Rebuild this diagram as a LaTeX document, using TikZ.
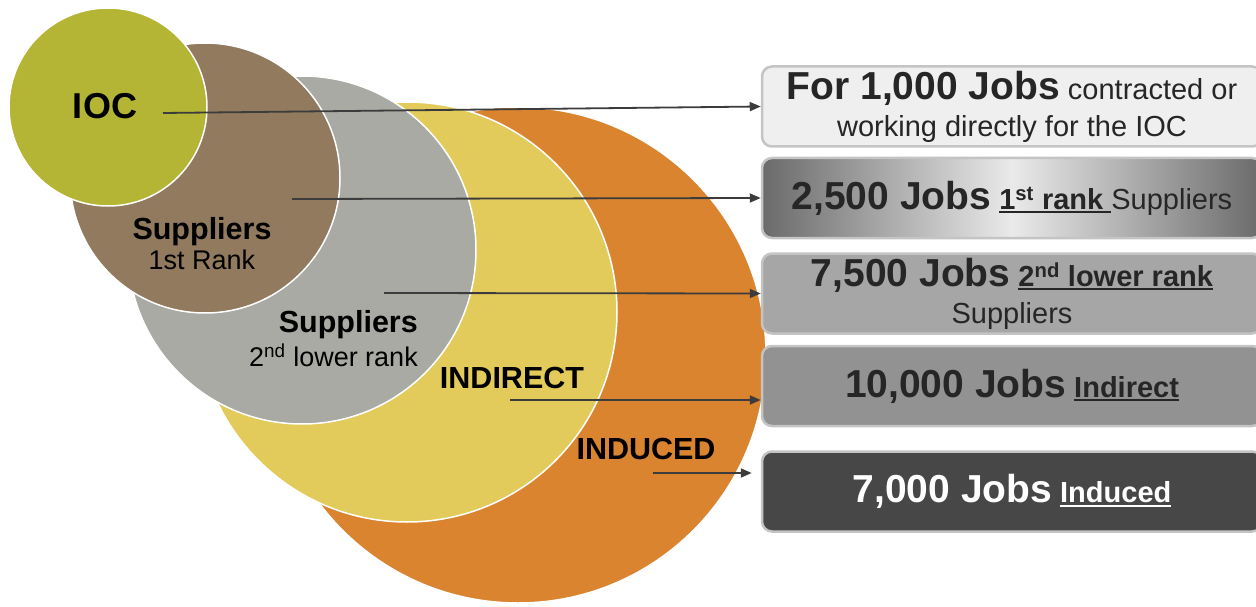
\documentclass[tikz,border=0pt]{standalone}
\usepackage{fontspec}
\setmainfont{Liberation Sans}
\usepackage{tikz}
\usetikzlibrary{positioning, arrows.meta}

\definecolor{iocgreen}{HTML}{B4B535}
\definecolor{suppbrown}{HTML}{917A5E}
\definecolor{suppgray}{HTML}{A9AAA4}
\definecolor{indirectyellow}{HTML}{E2CB5A}
\definecolor{inducedorange}{HTML}{DA8430}
\definecolor{linkgray}{HTML}{3C3C3C}
\definecolor{boxline}{HTML}{C4C4C4}
\definecolor{boxtext}{HTML}{262626}
\definecolor{boxA}{HTML}{EFEFEF}
\definecolor{boxBdark}{HTML}{6A6A6A}
\definecolor{boxBlight}{HTML}{EAEAEA}
\definecolor{boxC}{HTML}{A6A6A6}
\definecolor{boxD}{HTML}{929292}
\definecolor{boxE}{HTML}{474747}

\newsavebox\ulbox
\newcommand{\jobul}[1]{\sbox\ulbox{#1}\rlap{\rule[-4pt]{\wd\ulbox}{2pt}}\usebox\ulbox}
\newcommand{\bignum}{\bfseries\fontsize{39}{37}\selectfont}

\begin{document}
\begin{tikzpicture}
  [
    x = 1pt, y = -1pt,
    ring/.style = {draw = white, line width = 1.5pt, circle, inner sep = 0pt},
    lbl/.style = {inner sep = 0pt, text = black, align = center,
                  font = \bfseries\fontsize{30.5}{30}\selectfont},
    jobbox/.style = {draw = boxline, line width = 2.5pt, rounded corners = 10pt,
                     minimum width = 500pt, minimum height = 80pt, inner sep = 0pt,
                     align = center, text = boxtext, font = \fontsize{29}{37}\selectfont},
    link/.style = {draw = linkgray, line width = 1.8pt,
                   -{Triangle[length = 11pt, width = 9pt]}},
    node distance = 10pt
  ]
  \useasboundingbox (0,0) rectangle (1256,607);

  % circles, largest first
  \node [ring, fill = inducedorange,  minimum size = 496pt] (induced)  at (518,355) {};
  \node [ring, fill = indirectyellow, minimum size = 420pt] (indirect) at (407,312) {};
  \node [ring, fill = suppgray,       minimum size = 348pt] (supp2)    at (302,250) {};
  \node [ring, fill = suppbrown,      minimum size = 270pt] (supp1)    at (205,178) {};
  \node [ring, fill = iocgreen,       minimum size = 198pt] (ioc)      at (108,107) {};

  \node [lbl, font = \bfseries\fontsize{36}{36}\selectfont] (ioc-lbl) at (105,106) {IOC};
  \node [lbl, font = \fontsize{27}{30}\selectfont] (supp1-lbl) at (202,244)
    {{\bfseries\fontsize{30.5}{30}\selectfont Suppliers}\\1st Rank};
  \node [lbl, align = right, anchor = east, font = \fontsize{27}{34}\selectfont] (supp2-lbl) at (418,339)
    {{\bfseries\fontsize{30.5}{34}\selectfont Suppliers}\\2\textsuperscript{nd} lower rank};
  \node [lbl] (indirect-lbl) at (512,378) {INDIRECT};
  \node [lbl] (induced-lbl)  at (646,449) {INDUCED};

  \node [jobbox, fill = boxA] (box1) at (1012,106.5)
    {{\bignum For 1,000 Jobs} contracted or\\working directly for the IOC};
  \node [jobbox, left color = boxBdark, right color = boxBdark, middle color = boxBlight,
         below = 9pt of box1] (box2)
    {{\bignum 2,500 Jobs} \jobul{\textbf{1\textsuperscript{st} rank }}Suppliers};
  \node [jobbox, fill = boxC, below = 13pt of box2] (box3)
    {{\bignum 7,500 Jobs} \jobul{\textbf{2\textsuperscript{nd} lower rank}}\\Suppliers};
  \node [jobbox, fill = boxD, below = 10pt of box3] (box4)
    {{\bignum 10,000 Jobs} \jobul{\textbf{Indirect}}};
  \node [jobbox, fill = boxE, text = white, below = 23pt of box4] (box5)
    {{\bignum 7,000 Jobs} \jobul{\textbf{Induced}}};

  \coordinate (ioc-pt)      at (163,113);
  \coordinate (supp1-pt)    at (292,199);
  \coordinate (supp2-pt)    at (384,293);
  \coordinate (indirect-pt) at (510,400);
  \coordinate (induced-pt)  at (653,473);

  \draw [link] (ioc-pt) -- (box1.west);
  \draw [link] (supp1-pt) -- (box2.west);
  \draw [link] (supp2-pt) -- (box3.west);
  \draw [link] (indirect-pt) -- (indirect-pt -| box4.west);
  \draw [link, shorten > = 9pt] (induced-pt) -- (induced-pt -| box5.west);
\end{tikzpicture}
\end{document}
